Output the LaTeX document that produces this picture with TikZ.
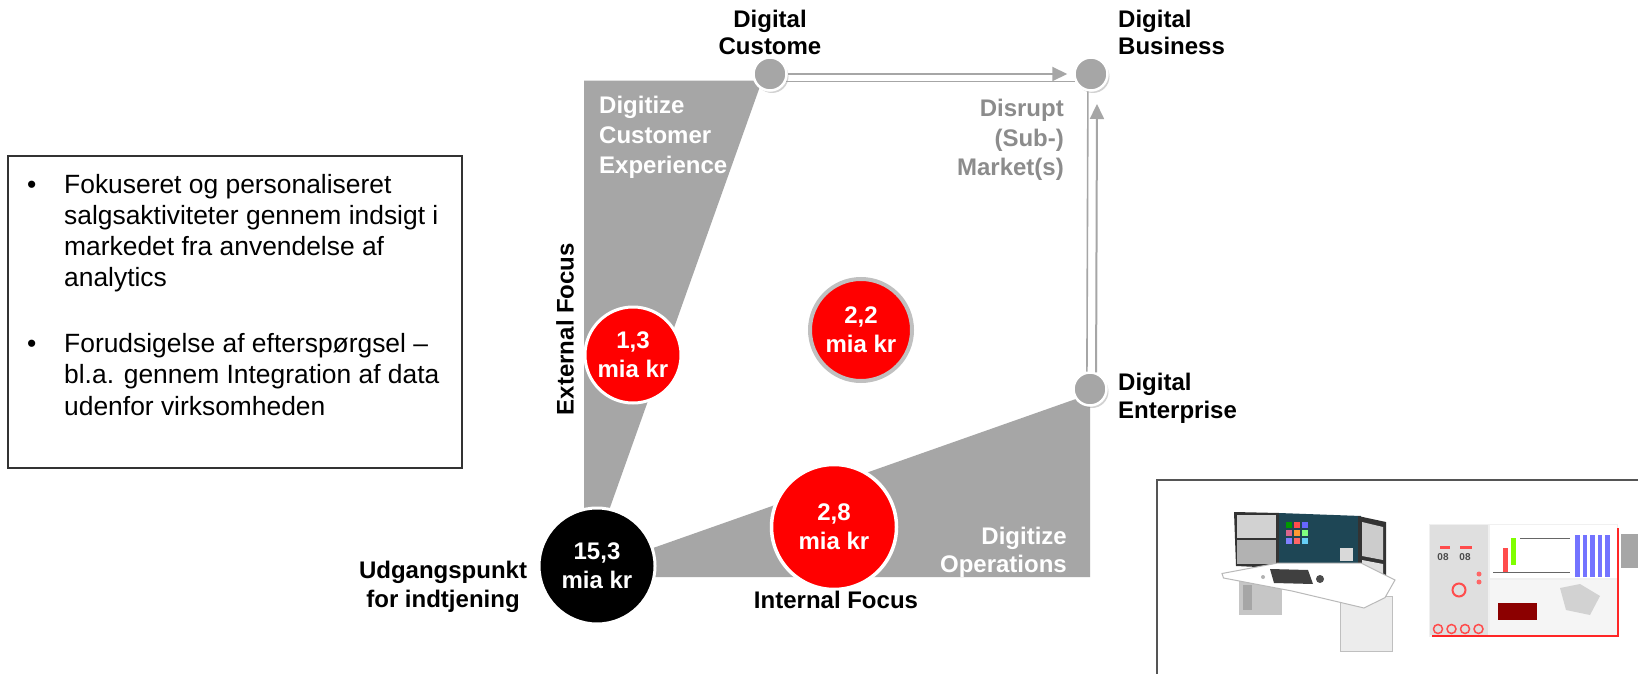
\documentclass[tikz,border=0pt]{standalone}
\usepackage{fontspec}
\setmainfont{Liberation Sans}
\usetikzlibrary{shadows,arrows.meta}
\definecolor{fgray}{RGB}{166,166,166}
\definecolor{dgray}{RGB}{140,140,140}
\definecolor{lgray}{RGB}{192,192,192}
\definecolor{fred}{RGB}{255,0,0}
\definecolor{boxc}{RGB}{50,50,50}
\definecolor{boxd}{RGB}{85,85,85}
\definecolor{scr}{RGB}{30,70,85}
\begin{document}
\begin{tikzpicture}[x=1pt,y=-1pt,
  lbl/.style={font=\fontsize{24}{29}\selectfont\bfseries, inner sep=0pt},
  wlbl/.style={lbl, text=white},
  glbl/.style={lbl, text=dgray},
  body/.style={font=\fontsize{26.4}{31.3}\selectfont, inner sep=0pt, anchor=base west},
  dot/.style={circle, fill=fgray, draw=white, line width=2.5pt, minimum size=33pt, inner sep=0pt,
    drop shadow={shadow xshift=2pt, shadow yshift=-2.5pt, opacity=0.35}},
  money/.style={circle, inner sep=0pt, draw=white, text=white, align=center,
    font=\fontsize{24}{29}\selectfont\bfseries},
  link/.style={draw=fgray, line width=2pt},
  tip/.style={-{Triangle[length=15pt,width=14pt]}},
]
\useasboundingbox (0,0) rectangle (1638,674);
\fill[white] (0,0) rectangle (1638,674);

% gray zones
\fill[fgray] (584,80.7) -- (762,80.7) -- (602,530) -- (584,530) -- cycle;
\fill[fgray] (640,552.6) -- (1090,394) -- (1090,577) -- (640,577) -- cycle;

% milestone dots
\node[dot] (dc) at (770,74) {};
\node[dot] (db) at (1091,74) {};
\node[dot] (de) at (1090,389) {};

% connectors
\draw[link, tip] (dc.east) -- ([xshift=-6pt]db.west);
\draw[link, line width=1.6pt] (dc.-25) -- (db.205);
\draw[link, line width=1.6pt] (de.100) -- (db.-100);
\draw[link, tip] (de.70) -- ([xshift=6pt,yshift=-30pt]db.center);

% money circles
\node[money, fill=black, line width=3pt, minimum size=116pt] (start) at (597,566) {15,3\\mia kr};
\node[money, fill=fred, line width=3pt, minimum size=96pt] (c13) at (633,355) {1,3\\mia kr};
\node[money, fill=fred, draw=lgray, line width=4pt, minimum size=102pt] (c22) at (861,330) {2,2\\mia kr};
\node[money, fill=fred, line width=3.5pt, minimum size=125pt] (c28) at (834,527) {2,8\\mia kr};

% labels
\node[lbl, anchor=base] (dcl1) at (770,28) {Digital};
\node[lbl, anchor=base] (dcl2) at (770,55) {Custome};
\node[lbl, anchor=base west] (dbl1) at (1118,28) {Digital};
\node[lbl, anchor=base west] (dbl2) at (1118,55) {Business};
\node[lbl, anchor=base west] (del1) at (1118,390) {Digital};
\node[lbl, anchor=base west] (del2) at (1118,418) {Enterprise};
\node[lbl, anchor=base] (u1) at (443,578) {Udgangspunkt};
\node[lbl, anchor=base] (u2) at (443,607) {for indtjening};
\node[lbl, anchor=base] (intf) at (836,608) {Internal Focus};
\node[lbl, rotate=90] (extf) at (565,329) {External Focus};

\node[wlbl, anchor=base west] (dce1) at (599,114) {Digitize};
\node[wlbl, anchor=base west] (dce2) at (599,143.5) {Customer};
\node[wlbl, anchor=base west] (dce3) at (599,173) {Experience};
\node[glbl, anchor=base east] (ds1) at (1064,117) {Disrupt};
\node[glbl, anchor=base east] (ds2) at (1064,146.5) {(Sub-)};
\node[glbl, anchor=base east] (ds3) at (1064,175.7) {Market(s)};
\node[wlbl, anchor=base east] (do1) at (1067,544) {Digitize};
\node[wlbl, anchor=base east] (do2) at (1067,572.5) {Operations};

% text box
\node[draw=boxc, line width=1.5pt, minimum width=454pt, minimum height=312pt, anchor=north west, inner sep=0pt] (tbox) at (7,155) {};
\node[body, anchor=base] (bul1) at (31.7,193) {•};
\node[body] (t1) at (64,193) {Fokuseret og personaliseret};
\node[body] (t2) at (64,224.3) {salgsaktiviteter gennem indsigt i};
\node[body] (t3) at (64,255.6) {markedet fra anvendelse af};
\node[body] (t4) at (64,286.9) {analytics};
\node[body, anchor=base] (bul2) at (31.7,352) {•};
\node[body] (t5) at (64,352) {Forudsigelse af efterspørgsel –};
\node[body] (t6) at (64,383.5) {bl.a. gennem Integration af data};
\node[body] (t7) at (64,415) {udenfor virksomheden};

% image box
\node[draw=boxd, line width=2pt, minimum width=520pt, minimum height=230pt, anchor=north west, inner sep=0pt] (ibox) at (1156,479) {};

% desk sketch
\fill[black!80] (1234,512) -- (1279,513) -- (1279,568) -- (1236,566) -- cycle;
\fill[gray!35] (1237,515) rectangle (1276,538);
\fill[gray!60] (1237,540) rectangle (1276,564);
\fill[scr] (1279,513) -- (1361,516) -- (1361,572) -- (1279,568) -- cycle;
\foreach \i/\j/\c in {0/0/green!60!black,1/0/red!70,2/0/blue!60,0/1/purple!60,1/1/orange!80,2/1/green!50,0/2/blue!50,1/2/red!60,2/2/cyan!60}
  \fill[\c] (1286+\i*8,522+\j*8) rectangle ++(6,6);
\fill[gray!30] (1340,548) rectangle (1353,561);
\fill[black!80] (1358,516) -- (1386,522) -- (1386,600) -- (1358,590) -- cycle;
\fill[gray!40] (1362,522) -- (1383,527) -- (1383,560) -- (1362,556) -- cycle;
\fill[gray!25] (1362,560) -- (1383,564) -- (1383,594) -- (1362,587) -- cycle;
\fill[gray!45] (1239,579) rectangle (1282,615);
\fill[gray!70] (1243,585) rectangle (1252,610);
\filldraw[fill=gray!15, draw=gray!50] (1340,596) rectangle (1392,651);
\filldraw[fill=white, draw=gray!55, line width=1pt] (1222,573.5) -- (1278,563) -- (1361,563) -- (1395,580) -- (1385,597.6) -- (1364,608) -- (1292,591) -- (1223.5,578) -- cycle;
\fill[black!75] (1270,569) -- (1308,570) -- (1313,584) -- (1274,583) -- cycle;
\fill[black!70] (1320,579) circle (4);
\fill[gray!60] (1263,577) circle (2);

% dashboard sketch
\fill[gray!12] (1429,524) rectangle (1618,637);
\fill[gray!25] (1430,525) rectangle (1488,635);
\fill[white] (1490,525) rectangle (1617,578);
\fill[red!70] (1503,548) rectangle (1508,572);
\fill[green!50!yellow] (1511,538) rectangle (1516,565);
\draw[black!60, line width=0.6pt] (1493,572) -- (1570,572) (1520,538) -- (1570,538);
\foreach \k in {0,1,2,3,4}
  \fill[blue!55] (1575+\k*7.5,535) rectangle ++(4.5,42);
\fill[gray!8] (1490,580) rectangle (1617,635);
\fill[gray!35] (1560,588) -- (1580,584) -- (1600,596) -- (1590,615) -- (1566,610) -- cycle;
\fill[red!55!black] (1498,603) rectangle (1537,620);
\node[font=\fontsize{10}{10}\selectfont\bfseries, text=black!70, inner sep=0pt] (n08a) at (1443,557) {08};
\node[font=\fontsize{10}{10}\selectfont\bfseries, text=black!70, inner sep=0pt] (n08b) at (1465,557) {08};
\fill[red!70] (1440,546) rectangle (1450,549);
\fill[red!70] (1460,546) rectangle (1472,549);
\draw[red!70, line width=2pt] (1459,590) circle (6.5);
\foreach \k in {0,1,2,3}
  \draw[red!70, line width=1.5pt] (1438+\k*13.5,629) circle (4.5);
\fill[red!60] (1479,574) circle (2.5) (1479,582) circle (2.5);
\draw[red!85, line width=2pt] (1432,636) -- (1618,636) -- (1618,528);
\fill[fgray] (1621,534) rectangle (1640,568);
\end{tikzpicture}
\end{document}
